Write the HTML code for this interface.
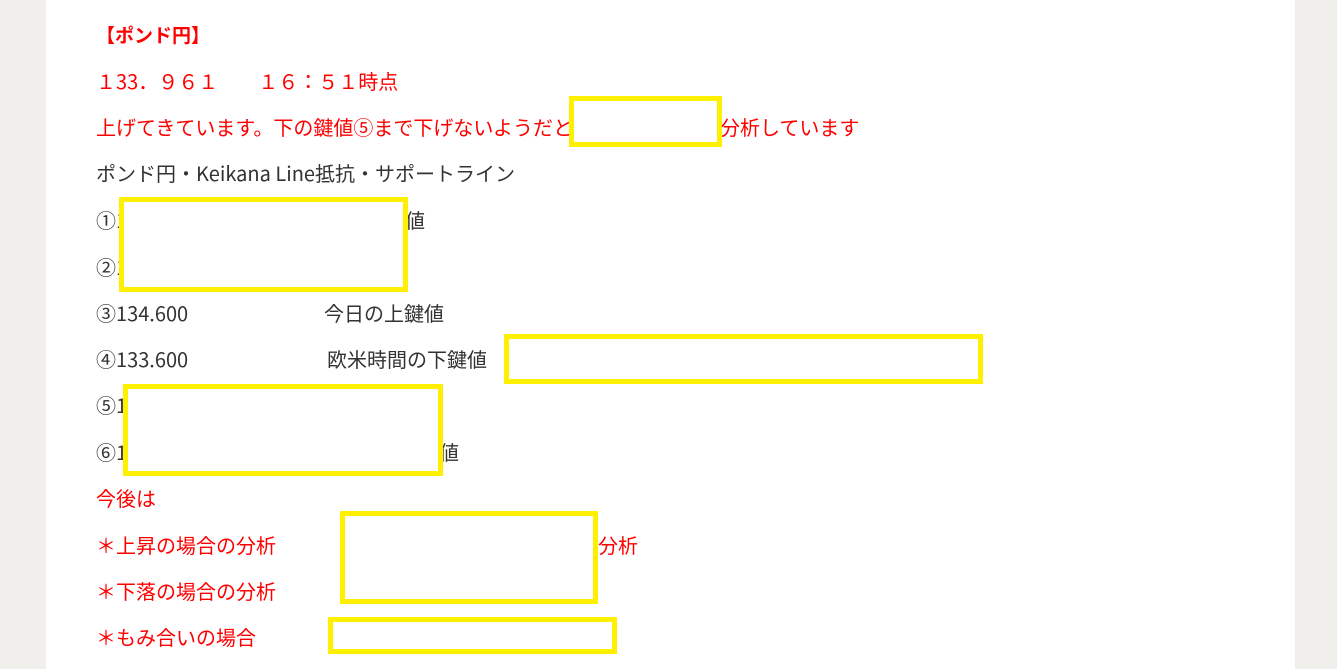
<!DOCTYPE html>
<html><head><meta charset="utf-8"><style>
html,body{margin:0;padding:0}
body{width:1337px;height:669px;background:#f0efeb;position:relative;overflow:hidden;font-family:"Noto Sans CJK JP","Liberation Sans",sans-serif;font-size:20px}
.panel{position:absolute;left:46px;top:0;width:1249px;height:669px;background:#fff}
.t{position:absolute;height:26px;line-height:26px;white-space:nowrap;color:#333}
.r{color:#f00}
.b{position:absolute;box-sizing:border-box;border:5px solid #fff000;background:#fff}
</style></head><body>
<div class="panel"></div>
<div class="t r" style="left:96px;top:22px;font-weight:bold;font-size:19px">【ポンド円】</div>
<div class="t r" style="left:96px;top:68px">１33．９６１　　１６：５１時点</div>
<div class="t r" style="left:96px;top:114px">上げてきています。下の鍵値⑤まで下げないようだと</div>
<div class="t r" style="left:720px;top:114px">分析しています</div>
<div class="t" style="left:96px;top:160px">ポンド円・Keikana Line抵抗・サポートライン</div>
<div class="t" style="left:96px;top:207px">①1</div>
<div class="t" style="left:405px;top:207px">値</div>
<div class="t" style="left:96px;top:254px">②1</div>
<div class="t" style="left:96px;top:300px">③134.600</div>
<div class="t" style="left:324px;top:300px">今日の上鍵値</div>
<div class="t" style="left:96px;top:346px">④133.600</div>
<div class="t" style="left:327px;top:346px">欧米時間の下鍵値</div>
<div class="t" style="left:96px;top:392px">⑤1</div>
<div class="t" style="left:96px;top:439px">⑥1</div>
<div class="t" style="left:439px;top:439px">値</div>
<div class="t r" style="left:96px;top:485px">今後は</div>
<div class="t r" style="left:96px;top:532px">＊上昇の場合の分析</div>
<div class="t r" style="left:598px;top:532px">分析</div>
<div class="t r" style="left:96px;top:578px">＊下落の場合の分析</div>
<div class="t r" style="left:96px;top:624px">＊もみ合いの場合</div>
<div class="b" style="left:569px;top:96px;width:153px;height:51px"></div>
<div class="b" style="left:119px;top:197px;width:289px;height:95px"></div>
<div class="b" style="left:504px;top:334px;width:479px;height:50px"></div>
<div class="b" style="left:123px;top:384px;width:320px;height:92px"></div>
<div class="b" style="left:340px;top:511px;width:258px;height:93px"></div>
<div class="b" style="left:328px;top:617px;width:289px;height:37px"></div>
</body></html>
